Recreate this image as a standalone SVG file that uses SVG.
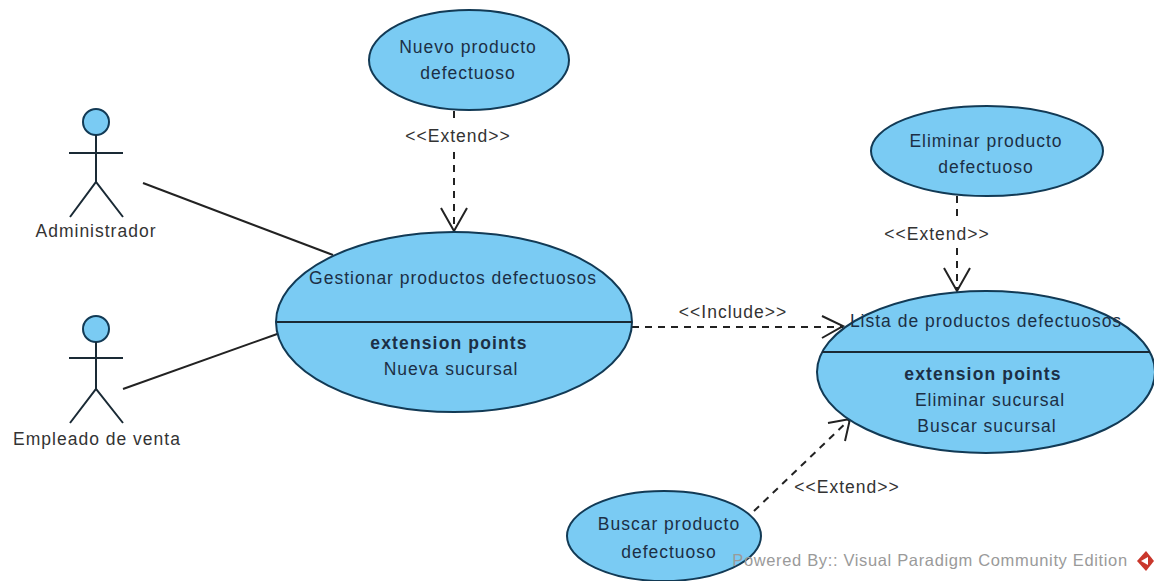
<svg xmlns="http://www.w3.org/2000/svg" width="1154" height="581" viewBox="0 0 1154 581">
<style>
text{font-family:"Liberation Sans",Arial,sans-serif;font-size:17.5px;letter-spacing:1px;fill:#1c2f45;text-anchor:middle}
.o{fill:#333}
.u{fill:#7ACBF3;stroke:#123a55;stroke-width:2}
.l{stroke:#1a2a35;stroke-width:2;fill:none}
.a{stroke:#222;stroke-width:2;fill:none}
.d{stroke:#222;stroke-width:2;fill:none;stroke-dasharray:7 6}
.b{font-weight:bold;letter-spacing:1.15px}
</style>
<rect width="1154" height="581" fill="#fff"/>
<g id="connectors">
<path class="a" d="M143 183L333 255"/>
<path class="a" d="M123 389L280 333"/>
<path class="d" d="M454 111V124M454 152V231"/>
<path class="a" d="M441 208L454 231L467 208"/>
<path class="d" d="M957 196V222M957 248V291"/>
<path class="a" d="M944 268L957 291L970 268"/>
<path class="d" d="M632 327H843"/>
<path class="a" d="M822 316L843 326L822 338"/>
<path class="d" d="M754 511L850 419"/>
<path class="a" d="M828 423L850 419L845 441"/>
</g>
<g id="actor-administrador">
<circle class="u" cx="96" cy="122" r="13"/>
<path class="l" d="M96 135V182M69 153H123M70 217L96 182L123 217"/>
<text class="o" x="96" y="237">Administrador</text>
</g>
<g id="actor-empleado">
<circle class="u" cx="96" cy="329" r="13"/>
<path class="l" d="M96 342V389M69 358H123M70 423L96 389L123 423"/>
<text class="o" x="97" y="445">Empleado de venta</text>
</g>
<g id="uc-nuevo">
<ellipse class="u" cx="469" cy="60" rx="100" ry="50"/>
<text x="468" y="53">Nuevo producto</text>
<text x="468" y="79">defectuoso</text>
</g>
<g id="uc-gestionar">
<ellipse class="u" cx="454" cy="322" rx="178" ry="90"/>
<path class="l" d="M277 322H632"/>
<text x="453" y="284">Gestionar productos defectuosos</text>
<text class="b" x="449" y="349">extension points</text>
<text x="451" y="375">Nueva sucursal</text>
</g>
<g id="uc-eliminar">
<ellipse class="u" cx="987" cy="151" rx="116" ry="45"/>
<text x="986" y="147">Eliminar producto</text>
<text x="986" y="173">defectuoso</text>
</g>
<g id="uc-lista">
<ellipse class="u" cx="986" cy="372" rx="169" ry="81"/>
<path class="l" d="M822 352H1150"/>
<text x="986" y="327">Lista de productos defectuosos</text>
<text class="b" x="983" y="380">extension points</text>
<text x="990" y="406">Eliminar sucursal</text>
<text x="987" y="432">Buscar sucursal</text>
</g>
<g id="uc-buscar">
<ellipse class="u" cx="664" cy="536" rx="97" ry="45"/>
<text x="669" y="530">Buscar producto</text>
<text x="669" y="558">defectuoso</text>
</g>
<g id="labels">
<text class="o" x="458" y="142">&lt;&lt;Extend&gt;&gt;</text>
<text class="o" x="937" y="240">&lt;&lt;Extend&gt;&gt;</text>
<text class="o" x="733" y="318">&lt;&lt;Include&gt;&gt;</text>
<text class="o" x="847" y="493">&lt;&lt;Extend&gt;&gt;</text>
</g>
<g id="watermark">
<text x="930" y="566" style="font-size:16.5px;letter-spacing:.65px;fill:#9a9a9a">Powered By:: Visual Paradigm Community Edition</text>
<path d="M1137 561L1146 551L1154 561L1146 571Z" fill="#c9372c"/>
<path d="M1141 561L1148 557L1148 565Z" fill="#fff"/>
</g>
</svg>
